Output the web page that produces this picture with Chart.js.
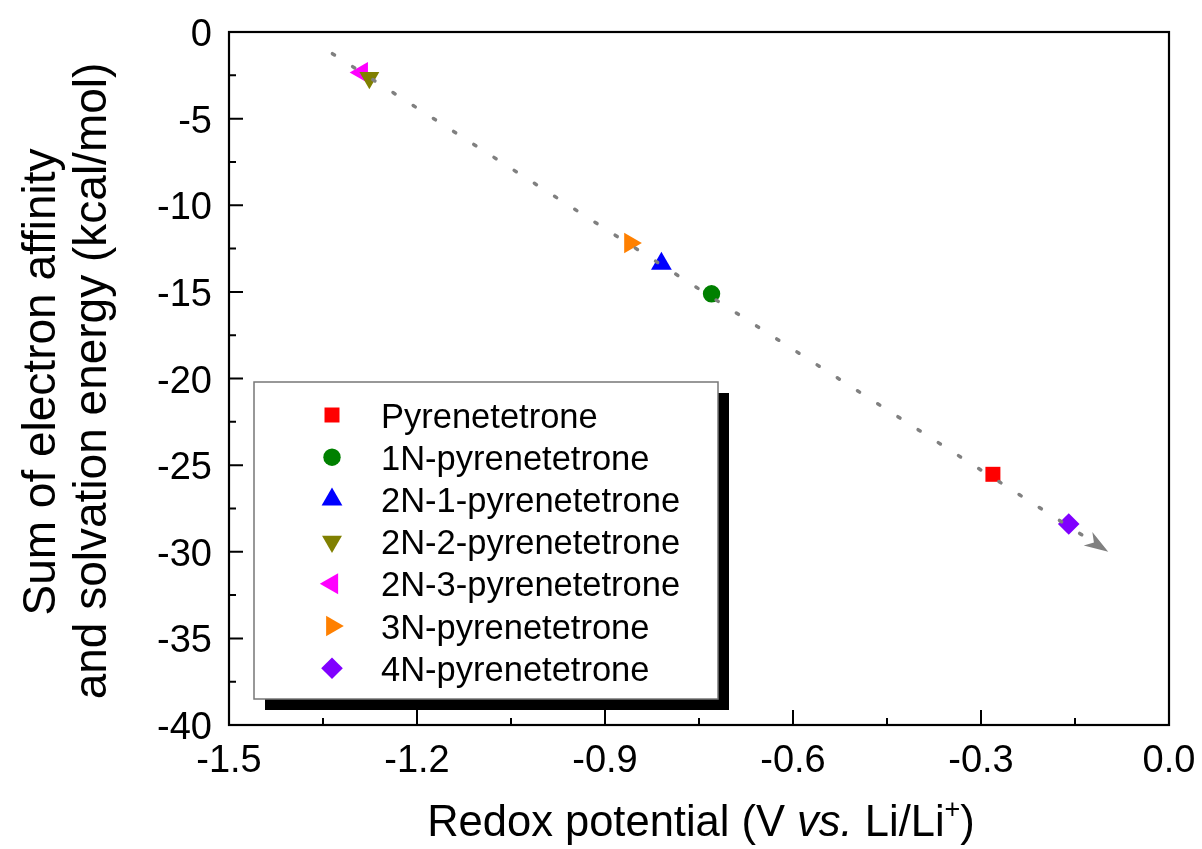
<!DOCTYPE html>
<html><head><meta charset="utf-8">
<script src="https://cdn.jsdelivr.net/npm/chart.js@4.4.1/dist/chart.umd.min.js"></script>
<style>html,body{margin:0;padding:0;background:#fff;}#wrap{width:1202px;height:849px;position:relative;}</style>
</head><body><div id="wrap"><canvas id="c" width="1202" height="849"></canvas></div>
<script>
const seriesNames = ['Pyrenetetrone','1N-pyrenetetrone','2N-1-pyrenetetrone','2N-2-pyrenetetrone','2N-3-pyrenetetrone','3N-pyrenetetrone','4N-pyrenetetrone'];
const redoxPotential = [-0.281, -0.730, -0.810, -1.276, -1.288, -0.860, -0.160];
const energySum = [-25.53, -15.11, -13.38, -2.64, -2.34, -12.18, -28.40];
const seriesColors = ['#FF0000','#008000','#0000FF','#808000','#FF00FF','#FF8000','#8000FF'];
const seriesShapes = ['rect','circle','triangle','triangle','triangle','triangle','rectRot'];
const seriesRotation = [0,0,0,180,270,90,0];
const seriesRadius = [10.6, 8.7, 12, 11.5, 12.2, 11.8, 10.8];
const trendX = [-1.335, -0.097];
const trendY = [-1.25, -30.0];
const xTickValues = [-1.5,-1.2,-0.9,-0.6,-0.3,0.0];
const xTickLabels = ['-1.5','-1.2','-0.9','-0.6','-0.3','0.0'];
const yTickValues = [0,-5,-10,-15,-20,-25,-30,-35,-40];
const yTickLabels = ['0','-5','-10','-15','-20','-25','-30','-35','-40'];
const xMinorValues = [-1.35,-1.05,-0.75,-0.45,-0.15];
const yMinorValues = [-2.5,-7.5,-12.5,-17.5,-22.5,-27.5,-32.5,-37.5];

const FONT = "'Liberation Sans', Arial, Helvetica, sans-serif";

const datasets = [{
  type:'line', label:'trend', order:0,
  data: trendX.map((x,i)=>({x:x,y:trendY[i]})),
  showLine:true, pointRadius:0, borderColor:'#808080', borderWidth:3.5,
  borderDash:[2.5,21.5], borderCapStyle:'round', fill:false
}];
seriesNames.forEach((n,i)=>{
  datasets.push({label:n, order:1, data:[{x:redoxPotential[i], y:energySum[i]}],
    pointStyle:seriesShapes[i], rotation:seriesRotation[i], pointRadius:seriesRadius[i],
    backgroundColor:seriesColors[i], borderColor:seriesColors[i], borderWidth:0, pointHoverRadius:seriesRadius[i]});
});

const decor = {
  id:'decor',
  afterDatasetsDraw(chart){
    const ctx = chart.ctx, xs = chart.scales.x, ys = chart.scales.y;
    const x0 = xs.getPixelForValue(trendX[0]), y0 = ys.getPixelForValue(trendY[0]);
    const x1 = xs.getPixelForValue(trendX[1]), y1 = ys.getPixelForValue(trendY[1]);
    const L = Math.hypot(x1-x0,y1-y0), ux=(x1-x0)/L, uy=(y1-y0)/L, px=-uy, py=ux;
    const hl=24, hw=8, notch=17;
    ctx.save();
    ctx.fillStyle='#808080';
    ctx.beginPath();
    ctx.moveTo(x1,y1);
    ctx.lineTo(x1-ux*hl+px*hw, y1-uy*hl+py*hw);
    ctx.lineTo(x1-ux*notch, y1-uy*notch);
    ctx.lineTo(x1-ux*hl-px*hw, y1-uy*hl-py*hw);
    ctx.closePath(); ctx.fill();
    ctx.restore();
  },
  afterDraw(chart){
    const ctx = chart.ctx, a = chart.chartArea, xs = chart.scales.x, ys = chart.scales.y;
    ctx.save();
    ctx.strokeStyle='#000'; ctx.lineWidth=2.2;
    ctx.strokeRect(a.left, a.top, a.right-a.left, a.bottom-a.top);
    ctx.lineWidth=2;
    ctx.beginPath();
    xTickValues.forEach(v=>{const p=xs.getPixelForValue(v); ctx.moveTo(p,a.bottom); ctx.lineTo(p,a.bottom-15);});
    xMinorValues.forEach(v=>{const p=xs.getPixelForValue(v); ctx.moveTo(p,a.bottom); ctx.lineTo(p,a.bottom-7);});
    yTickValues.forEach(v=>{const p=ys.getPixelForValue(v); ctx.moveTo(a.left,p); ctx.lineTo(a.left+14,p);});
    yMinorValues.forEach(v=>{const p=ys.getPixelForValue(v); ctx.moveTo(a.left,p); ctx.lineTo(a.left+7,p);});
    ctx.stroke();
    ctx.fillStyle='#000';
    ctx.font='38px '+FONT;
    ctx.textAlign='center'; ctx.textBaseline='alphabetic';
    xTickValues.forEach((v,i)=>{ctx.fillText(xTickLabels[i], xs.getPixelForValue(v), a.bottom+47);});
    ctx.textAlign='right';
    yTickValues.forEach((v,i)=>{ctx.fillText(yTickLabels[i], a.left-17, ys.getPixelForValue(v)+14);});
    const lx=254, ly=382, lw=464, lh=317;
    ctx.fillStyle='#000';
    ctx.fillRect(lx+11, ly+11, lw, lh);
    ctx.fillStyle='#fff';
    ctx.fillRect(lx, ly, lw, lh);
    ctx.strokeStyle='#777'; ctx.lineWidth=1.5;
    ctx.strokeRect(lx, ly, lw, lh);
    ctx.font = '34.5px '+FONT; ctx.textBaseline='alphabetic'; ctx.textAlign='left';
    seriesNames.forEach((n,i)=>{
      const cy = 415 + i*42.2;
      ctx.fillStyle = seriesColors[i];
      Chart.helpers.drawPoint(ctx, {pointStyle:seriesShapes[i], rotation:seriesRotation[i], radius:seriesRadius[i], borderWidth:0}, 332, cy);
      ctx.fillStyle='#000';
      ctx.fillText(n, 381, cy+12.5);
    });
    const parts = [
      {t:'Redox potential (V ', f:'43.5px '+FONT, dy:0},
      {t:'vs.', f:'italic 43.5px '+FONT, dy:0},
      {t:' Li/Li', f:'43.5px '+FONT, dy:0},
      {t:'+', f:'27px '+FONT, dy:-18},
      {t:')', f:'43.5px '+FONT, dy:0}
    ];
    let tw=0; parts.forEach(p=>{ctx.font=p.f; p.w=ctx.measureText(p.t).width; tw+=p.w;});
    let cx = 701 - tw/2;
    ctx.fillStyle='#000';
    parts.forEach(p=>{ctx.font=p.f; ctx.fillText(p.t, cx, 836+p.dy); cx+=p.w;});
    ctx.save();
    ctx.rotate(-Math.PI/2);
    ctx.font='46px '+FONT; ctx.textAlign='center'; ctx.textBaseline='middle';
    ctx.fillText('Sum of electron affinity', -382, 42);
    ctx.fillText('and solvation energy (kcal/mol)', -381, 93);
    ctx.restore();
    ctx.restore();
  }
};

new Chart(document.getElementById('c'), {
  type:'scatter',
  data:{datasets:datasets},
  plugins:[decor],
  options:{
    responsive:false, animation:false, devicePixelRatio:1,
    layout:{padding:{left:0, top:32, right:33, bottom:0}},
    plugins:{legend:{display:false}, tooltip:{enabled:false}},
    scales:{
      x:{type:'linear', min:-1.5, max:0,
        afterBuildTicks(s){ s.ticks = xTickValues.map(v=>({value:v})); },
        afterFit(s){ s.height = 124; },
        grid:{display:false, drawTicks:false}, border:{display:false},
        ticks:{display:false}},
      y:{type:'linear', min:-40, max:0,
        afterBuildTicks(s){ s.ticks = yTickValues.map(v=>({value:v})); },
        afterFit(s){ s.width = 229; },
        grid:{display:false, drawTicks:false}, border:{display:false},
        ticks:{display:false}}
    }
  }
});
</script></body></html>
